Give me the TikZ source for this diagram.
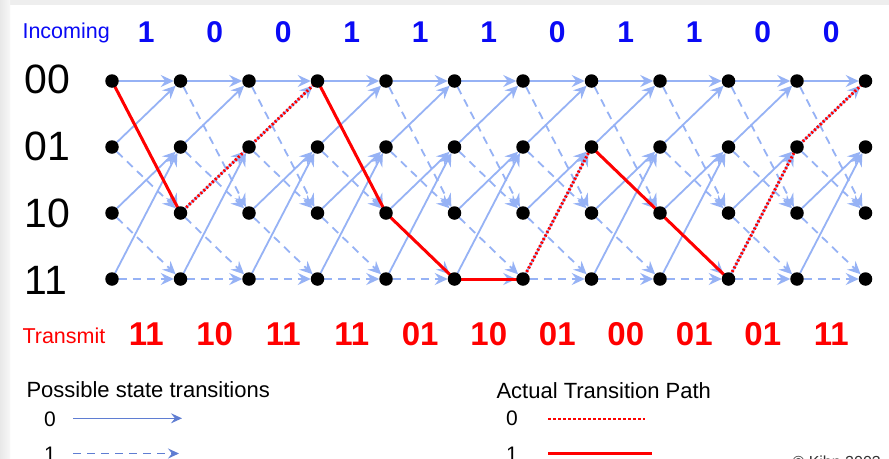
\documentclass[tikz,border=0pt]{standalone}
\usepackage{fontspec}
\setmainfont{Liberation Sans}
\usetikzlibrary{arrows.meta}
\definecolor{trellisblue}{RGB}{150,178,245}
\definecolor{legendblue}{RGB}{95,125,210}
\definecolor{inblue}{RGB}{10,10,245}
\definecolor{pathred}{RGB}{255,0,0}
\definecolor{framegray}{RGB}{238,238,238}
\newcommand{\fsz}[1]{\fontsize{#1}{#1}\selectfont}
\begin{document}
\begin{tikzpicture}[x=1pt,y=-1pt,
  statept/.style={circle,inner sep=0pt,outer sep=0pt,minimum size=13.5pt},
  tip/.style={-{Stealth[length=13pt,width=12pt,inset=4.5pt]}},
  zeromove/.style={trellisblue,line width=1.8pt,tip},
  onemove/.style={zeromove,dash pattern=on 8pt off 6pt},
  pathone/.style={pathred,line width=3pt},
  pathzero/.style={pathred,line width=3pt,dash pattern=on 2pt off 2pt},
  label/.style={anchor=base west,font=\fsz{21.5}},
  bitin/.style={anchor=base,inblue,font=\bfseries\fsz{30}},
  bitout/.style={anchor=base,pathred,font=\bfseries\fsz{33}},
  statelbl/.style={anchor=base west,font=\fsz{41}},
  legtxt/.style={anchor=base west,font=\fsz{22}},
  legnum/.style={anchor=base,font=\fsz{21}},
  legarrow/.style={legendblue,line width=1.3pt,-{Stealth[length=11pt,width=10pt,inset=4pt]}}
]
\useasboundingbox (0,0) rectangle (889,458);
\clip (0,0) rectangle (889,458);
% page frame
\fill[white] (0,0) rectangle (889,458);
\fill[framegray] (0,0) rectangle (889,5);
\shade[left color=black!9,right color=black!3] (0,0) rectangle (10,458);

% trellis states: column c, row r (00,01,10,11)
\foreach \c in {0,...,11}
  \foreach \r in {0,...,3}
    \node[statept] (n-\c-\r) at ({112+68.5*\c},{81+66*\r}) {};

% every possible transition: input 0 solid, input 1 dashed
\foreach \c in {0,...,10}{
  \pgfmathtruncatemacro{\nc}{\c+1}
  \foreach \r in {0,...,3}{
    \pgfmathtruncatemacro{\za}{\r/2}
    \pgfmathtruncatemacro{\ob}{2+\r/2}
    \draw[zeromove] (n-\c-\r) -- (n-\nc-\za);
    \draw[onemove] (n-\c-\r) -- (n-\nc-\ob);
  }
}

% actual path taken by the input sequence
\foreach \c/\a/\b/\s in {0/0/2/pathone,1/2/1/pathzero,2/1/0/pathzero,3/0/2/pathone,
  4/2/3/pathone,5/3/3/pathone,6/3/1/pathzero,7/1/2/pathone,8/2/3/pathone,
  9/3/1/pathzero,10/1/0/pathzero}{
  \pgfmathtruncatemacro{\nc}{\c+1}
  \draw[\s] (n-\c-\a.center) -- (n-\nc-\b.center);
}

% state dots
\foreach \c in {0,...,11}
  \foreach \r in {0,...,3}
    \fill (n-\c-\r.center) circle (6.75pt);

% row labels
\node[statelbl] (s00) at (21,93) {00};
\node[statelbl] (s01) at (21,160) {01};
\node[statelbl] (s10) at (21,227) {10};
\node[statelbl] (s11) at (21,294) {11};

% incoming bits
\node[label,inblue] (incoming) at (19,38) {Incoming};
\foreach \i/\v in {0/1,1/0,2/0,3/1,4/1,5/1,6/0,7/1,8/1,9/0,10/0}
  \node[bitin] (in-\i) at ({146.25+68.5*\i},42) {\v};

% transmitted pairs
\node[label,pathred] (transmit) at (19,343) {Transmit};
\foreach \i/\v in {0/11,1/10,2/11,3/11,4/01,5/10,6/01,7/00,8/01,9/01,10/11}
  \node[bitout] (out-\i) at ({146.25+68.5*\i},345) {\v};

% legend: possible transitions
\node[legtxt] (possible) at (23,397) {Possible state transitions};
\node[legnum] (p0) at (50,426.5) {0};
\node[legnum] (p1) at (50,461) {1};
\coordinate (pa0s) at (73,418.3);
\coordinate (pa0e) at (182,418.3);
\coordinate (pa1s) at (73,453.5);
\coordinate (pa1e) at (179,453.5);
\draw[legarrow] (pa0s) -- (pa0e);
\draw[legarrow,dash pattern=on 8pt off 6pt] (pa1s) -- (pa1e);

% legend: actual path
\node[legtxt] (actual) at (493,398) {Actual Transition Path};
\node[legnum] (a0) at (512,425.5) {0};
\node[legnum] (a1) at (512,461) {1};
\coordinate (aa0s) at (548,419);
\coordinate (aa0e) at (645,419);
\coordinate (aa1s) at (548,453);
\coordinate (aa1e) at (652,453);
\draw[pathred,line width=2.2pt,dash pattern=on 2.5pt off 2.5pt] (aa0s) -- (aa0e);
\draw[pathone] (aa1s) -- (aa1e);

% credit line
\node[anchor=base west,font=\fsz{16},text=black!80] (credit) at (789,467) {© Kihn 2003};
\end{tikzpicture}
\end{document}
